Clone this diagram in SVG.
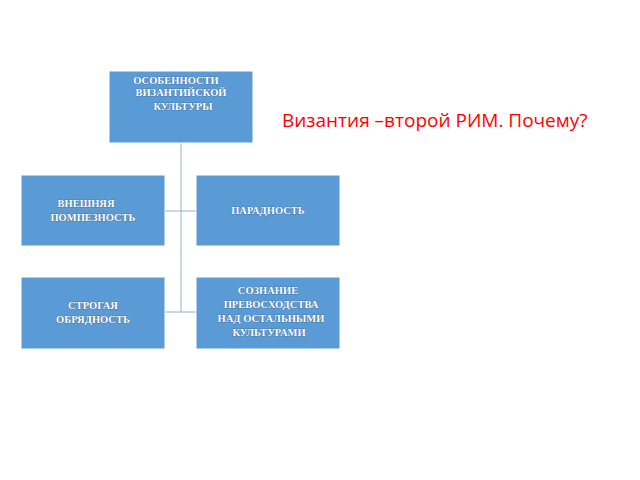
<svg xmlns="http://www.w3.org/2000/svg" width="640" height="480" viewBox="0 0 640 480">
<style>
.box{fill:#5b9bd5;stroke:#ffffff;stroke-width:1}
.t{font-family:"Liberation Serif",serif;font-weight:bold;font-size:10.5px;fill:#fff;text-anchor:middle;stroke:#3a5f86;stroke-width:0.6px;paint-order:stroke}
.c{stroke:#8fb0d0;stroke-width:1;fill:none}
</style>
<rect width="640" height="480" fill="#fff"/>
<g id="connectors">
<path class="c" d="M181,143 V312"/>
<path class="c" d="M165,211 H196" stroke="#d5e2ef"/>
<path class="c" d="M165,312 H196"/>
</g>
<g id="root"><rect class="box" x="109" y="71" width="144" height="72"/>
<text class="t" x="176" y="84">ОСОБЕННОСТИ</text><text class="t" x="181" y="96">ВИЗАНТИЙСКОЙ</text><text class="t" x="183" y="110">КУЛЬТУРЫ</text></g>
<g id="n1"><rect class="box" x="21" y="175" width="144" height="71"/>
<text class="t" x="86" y="207">ВНЕШНЯЯ</text><text class="t" x="93" y="221">ПОМПЕЗНОСТЬ</text></g>
<g id="n2"><rect class="box" x="196" y="175" width="144" height="71"/>
<text class="t" x="268" y="214">ПАРАДНОСТЬ</text></g>
<g id="n3"><rect class="box" x="21" y="277" width="144" height="72"/>
<text class="t" x="93" y="309">СТРОГАЯ</text><text class="t" x="93" y="323">ОБРЯДНОСТЬ</text></g>
<g id="n4"><rect class="box" x="196" y="277" width="144" height="72"/>
<text class="t" x="268" y="294">СОЗНАНИЕ</text><text class="t" x="271" y="308">ПРЕВОСХОДСТВА</text><text class="t" x="271" y="322">НАД ОСТАЛЬНЫМИ</text><text class="t" x="269" y="336">КУЛЬТУРАМИ</text></g>
<text x="282" y="127" font-family="'Open Sans','DejaVu Sans',sans-serif" font-size="19" fill="#ff0000">Византия –второй РИМ. Почему?</text>
</svg>
